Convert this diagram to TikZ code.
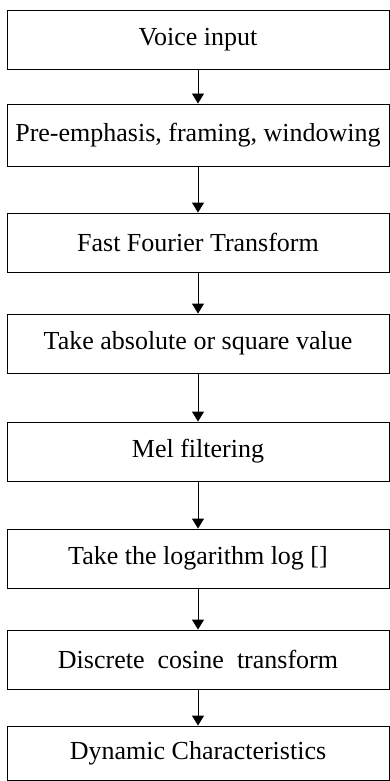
\documentclass[tikz,border=0pt]{standalone}
\usepackage{fontspec}
\setmainfont{Liberation Serif}
\usetikzlibrary{arrows.meta}
\begin{document}
\begin{tikzpicture}[x=1pt,y=-1pt,
  stepbox/.style={draw,line width=0.9pt,minimum width=382pt,inner sep=0pt,anchor=center,font=\fontsize{26pt}{29pt}\selectfont},
  flow/.style={line width=0.9pt,-{Triangle[width=12pt,length=10pt]}}]
\useasboundingbox (0,0) rectangle (390,781);
\node[stepbox,minimum height=59pt] (b1) at (198,39.5) {Voice input};
\node[stepbox,minimum height=62pt] (b2) at (198,135) {Pre-emphasis, framing, windowing};
\node[stepbox,minimum height=59pt] (b3) at (198,242.5) {Fast Fourier Transform};
\node[stepbox,minimum height=59pt] (b4) at (198,343.5) {Take absolute or square value};
\node[stepbox,minimum height=59pt] (b5) at (198,451.5) {Mel filtering};
\node[stepbox,minimum height=59pt] (b6) at (198,558.5) {Take the logarithm log []};
\node[stepbox,minimum height=59pt] (b7) at (198,659.5) {Discrete\ \ cosine\ \ transform};
\node[stepbox,minimum height=54pt] (b8) at (198,753) {Dynamic Characteristics};
\foreach \a/\b in {b1/b2,b2/b3,b3/b4,b4/b5,b5/b6,b6/b7,b7/b8}
  \draw[flow] (\a.south) -- (\b.north);
\end{tikzpicture}
\end{document}
